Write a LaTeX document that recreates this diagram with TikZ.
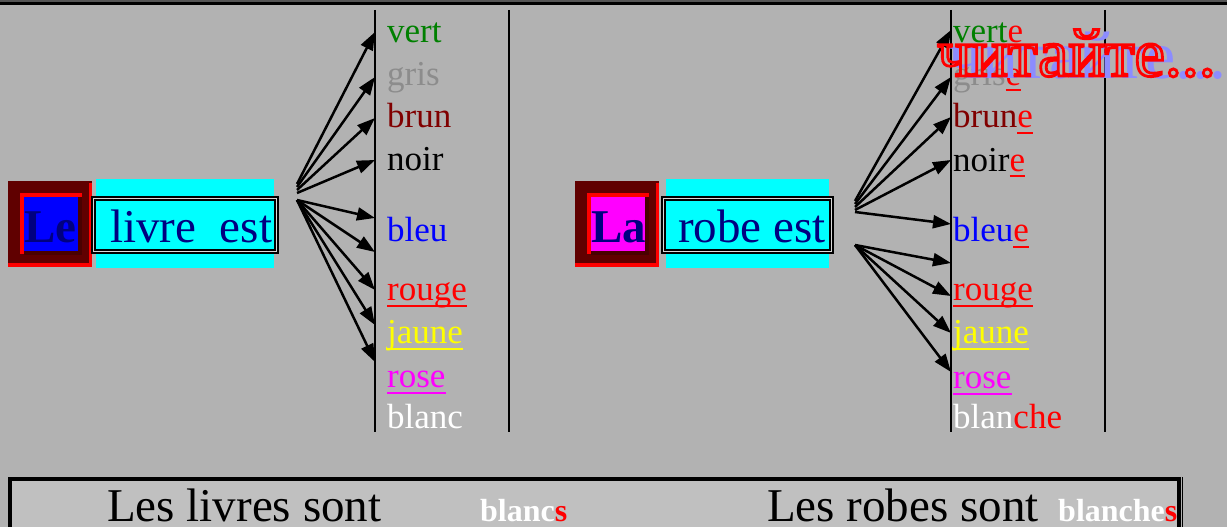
\documentclass[tikz,border=0pt]{standalone}
\usepackage{fontspec}
\setmainfont{Liberation Serif}
\usetikzlibrary{arrows.meta}
\definecolor{bg}{HTML}{B2B2B2}
\definecolor{boxbg}{HTML}{C0C0C0}
\definecolor{topgray}{HTML}{555555}
\definecolor{vgreen}{HTML}{008000}
\definecolor{vgray}{HTML}{8C8C8C}
\definecolor{vbrown}{HTML}{800000}
\definecolor{vyellow}{HTML}{FFFF00}
\definecolor{vpink}{HTML}{FF00FF}
\definecolor{aqua}{HTML}{00FFFF}
\definecolor{navyblue}{HTML}{000080}
\definecolor{artred}{HTML}{600000}
\definecolor{artdark}{HTML}{4A0000}
\definecolor{shadowblue}{HTML}{8C8CFF}
% underline at a fixed depth, in the current colour
\newcommand\undl[1]{\setbox0\hbox{#1}\rlap{\rule[-6.5pt]{\wd0}{2pt}}\box0}
% outline (stroked) text
\newcommand\outl[1]{\special{pdf:literal direct 1 Tr 2.8 w}#1\special{pdf:literal direct 0 Tr 0.4 w}}
\tikzset{
  word/.style={anchor=base west, inner sep=0pt, font=\fontsize{35}{40}\selectfont},
  big/.style={anchor=base west, inner sep=0pt, font=\fontsize{47}{50}\selectfont},
  fan/.style={line width=2.5pt, -{Triangle[length=18pt,width=13pt]}},
  colrule/.style={line width=2pt},
  frame/.style={draw=black, line width=1.6pt, double=boxbg!60!white, double distance=0.9pt},
}
\begin{document}
\begin{tikzpicture}[x=1pt,y=-1pt]
\useasboundingbox (0,0) rectangle (1227,527);
\fill[bg] (0,0) rectangle (1227,527);
\fill[topgray] (0,0) rectangle (1227,2);
\fill[black] (0,2) rectangle (1227,5.5);

% column rules
\foreach \x in {375,509,951,1105}
  \draw[colrule] (\x,10) -- (\x,432);

% article boxes
\foreach \dx/\f/\t/\n in {0/blue/Le/le, 567/vpink/La/la}{
  \begin{scope}[xshift=\dx]
    \fill[artred] (8,181) rectangle (92,267);
    \fill[red] (89,183) rectangle (92,267);
    \fill[red] (8,263) rectangle (92,267);
    \fill[red] (20,193) rectangle (82,254);
    \fill[artdark] (24,197) rectangle (82,255);
    \fill[\f] (24,197) rectangle (78,251);
    \node[big, text=navyblue, font=\bfseries\fontsize{47}{50}\selectfont] (\n) at (24,242) {\t};
  \end{scope}
}

% noun boxes
\fill[aqua] (96,179) rectangle (274,268);
\draw[frame] (93.5,198.5) rectangle (276.5,251.5);
\node[big, text=navyblue] (livre) at (110,242) {livre\ \ est};
\fill[aqua] (666,179) rectangle (829,268);
\draw[frame] (663.5,198.5) rectangle (831.5,251.5);
\node[big, text=navyblue] (robe) at (678,242) {robe est};

% left colour list
\foreach \w/\c/\y/\u in {vert/vgreen/43/0, gris/vgray/85/0, brun/vbrown/128/0,
    noir/black/170/0, bleu/blue/241/0, rouge/red/300/1, jaune/vyellow/343/1,
    rose/vpink/387/1, blanc/white/428/0}
  \node[word, text=\c] (l\w) at (387,\y) {\ifnum\u=1 \undl{\w}\else\w\fi};

% right colour list
\node[word, text=vgreen] (rverte) at (953,43) {vert\textcolor{red}{\undl{e}}};
\node[word, text=vgray] (rgrise) at (953,85) {gris\textcolor{red}{\undl{e}}};
\node[word, text=vbrown] (rbrune) at (953,128) {brun\textcolor{red}{\undl{e}}};
\node[word, text=black] (rnoire) at (953,171) {noir\textcolor{red}{\undl{e}}};
\node[word, text=blue] (rbleue) at (953,241) {bleu\textcolor{red}{\undl{e}}};
\node[word, text=red] (rrouge) at (953,300) {\undl{rouge}};
\node[word, text=vyellow] (rjaune) at (953,343) {\undl{jaune}};
\node[word, text=vpink] (rrose) at (953,388) {\undl{rose}};
\node[word, text=white] (rblanche) at (953,428) {blan\textcolor{red}{che}};

% left fan
\foreach \n/\y in {1/184,2/187,3/190,4/193}
  \coordinate (lu\n) at (297,\y);
\coordinate (ll) at (297,200);
\foreach \n/\y in {1/32,2/77,3/118,4/160,5/218,6/252,7/290,8/325,9/362}
  \coordinate (lt\n) at (375,\y);
\foreach \n in {1,...,4}
  \draw[fan] (lu\n) -- (lt\n);
\foreach \n in {5,...,9}
  \draw[fan] (ll) -- (lt\n);

% right fan
\foreach \n/\y in {1/201,2/204,3/207,4/210,5/212}
  \coordinate (ru\n) at (855,\y);
\coordinate (rl) at (855,245);
\foreach \n/\y in {1/30,2/77,3/117,4/160,5/224,6/263,7/296,8/333,9/372}
  \coordinate (rt\n) at (951,\y);
\foreach \n in {1,...,5}
  \draw[fan] (ru\n) -- (rt\n);
\foreach \n in {6,...,9}
  \draw[fan] (rl) -- (rt\n);

% bottom box
\draw[line width=4pt, fill=boxbg] (10,479) rectangle (1179,560);
\draw[line width=1.2pt] (1182.5,477) -- (1182.5,560);
\node[big] (lesl) at (107,521) {Les livres sont};
\node[anchor=base west, inner sep=0pt, text=white, font=\bfseries\fontsize{32}{34}\selectfont] (blancs) at (480,521) {blanc\textcolor{red}{s}};
\node[big] (lesr) at (767,521) {Les robes sont};
\node[anchor=base west, inner sep=0pt, text=white, font=\bfseries\fontsize{32}{34}\selectfont] (blanches) at (1058,521) {blanche\textcolor{red}{s}};

% reading prompt
\node[anchor=base west, inner sep=0pt, text=shadowblue, font=\fontsize{68}{72}\selectfont] (readsh) at (948,79) {читайте...};
\node[anchor=base west, inner sep=0pt, text=red, font=\fontsize{68}{72}\selectfont] (read) at (937,76) {\outl{читайте...}};
\end{tikzpicture}
\end{document}
